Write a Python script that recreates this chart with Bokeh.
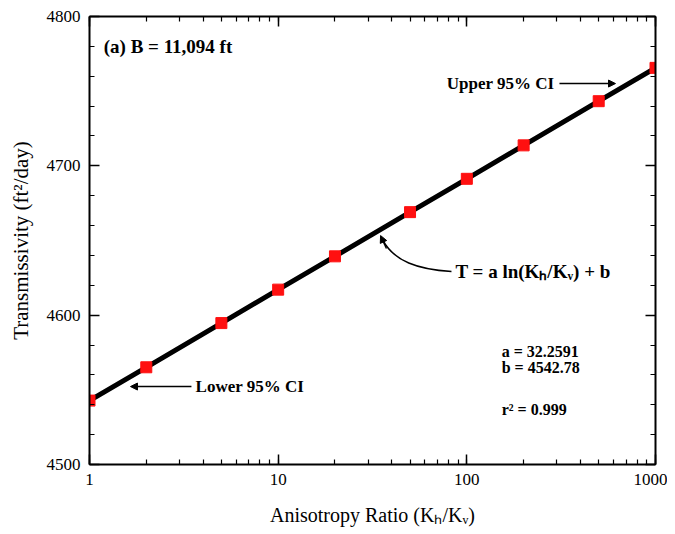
from bokeh.plotting import figure
from bokeh.models import (LogAxis, LinearAxis, LogTicker, SingleIntervalTicker, Range1d,
                          Label, Arrow, NormalHead, CustomJSTickFormatter)
from bokeh.embed import file_html
from bokeh.resources import INLINE

# ---- data ----
ratio = [1, 2, 5, 10, 20, 50, 100, 200, 500, 1000]
transmissivity = [4542.8, 4565.1, 4594.7, 4617.1, 4639.4, 4669.0, 4691.3, 4713.7, 4743.3, 4765.6]
y_ticks = [4500, 4600, 4700, 4800]
x_ticks = [1, 10, 100, 1000]

SERIF = "Liberation Serif"

p = figure(frame_width=566, frame_height=448, x_axis_type="log",
           x_range=Range1d(1, 1000), y_range=Range1d(4500, 4800),
           output_backend="svg", toolbar_location=None,
           min_border_left=89, min_border_right=12, min_border_top=16, min_border_bottom=64)
p.outline_line_color = None
p.xgrid.visible = False
p.ygrid.visible = False
p.background_fill_color = "white"

xt = LogTicker(num_minor_ticks=10)
yt = SingleIntervalTicker(interval=100, num_minor_ticks=5)

def style(ax, labels=True):
    ax.axis_line_width = 2
    ax.axis_line_color = "black"
    ax.major_tick_in = 10
    ax.major_tick_out = 0
    ax.minor_tick_in = 5
    ax.minor_tick_out = 0
    ax.major_tick_line_width = 1.5
    ax.minor_tick_line_width = 1.2
    ax.major_tick_line_color = "black"
    ax.minor_tick_line_color = "black"
    if labels:
        ax.major_label_text_font = SERIF
        ax.major_label_text_font_size = "17px"
        ax.major_label_text_color = "black"
        ax.axis_label_text_font = SERIF
        ax.axis_label_text_font_style = "normal"
        ax.axis_label_text_font_size = "20px"
        ax.axis_label_text_color = "black"
    else:
        ax.formatter = CustomJSTickFormatter(code="return '';")
        ax.major_label_text_font_size = "0px"
        ax.major_label_standoff = 0

xa = p.xaxis[0]
xa.ticker = xt
style(xa)
xa.formatter = CustomJSTickFormatter(code="return String(Math.round(tick));")
xa.major_label_standoff = 9
xa.axis_label = "Anisotropy Ratio (Kₕ/Kᵥ)"
xa.axis_label_standoff = 16

ya = p.yaxis[0]
ya.ticker = yt
style(ya)
ya.major_label_standoff = 9
ya.axis_label = "Transmissivity (ft²/day)"
ya.axis_label_text_font_size = "21px"
ya.axis_label_standoff = 11

top = LogAxis(ticker=xt)
style(top, labels=False)
p.add_layout(top, "above")
right = LinearAxis(ticker=yt)
style(right, labels=False)
p.add_layout(right, "right")

# fitted line with confidence band (overlapping)
p.line(ratio, transmissivity, line_color="black", line_width=5)
p.scatter(ratio, transmissivity, marker="square", size=11, fill_color="#ff1010",
          line_color="#ff1010")

def lab(x, y, text, size="15px", align="left", baseline="middle"):
    p.add_layout(Label(x=x, y=y, text=text, text_font=SERIF, text_font_style="bold",
                       text_font_size=size, text_align=align, text_baseline=baseline,
                       text_color="black"))

lab(1.19, 4779.9, "(a) B = 11,094 ft", size="19px")
lab(291.5, 4754.8, "Upper 95% CI", size="17px", align="right")
lab(3.65, 4552.2, "Lower 95% CI", size="17px")
lab(87.1, 4629.0, "T = a ln(Kₕ/Kᵥ) + b", size="19px")
lab(153.0, 4575.7, "a = 32.2591", size="16px")
lab(153.0, 4565.0, "b = 4542.78", size="16px")
lab(153.0, 4536.8, "r² = 0.999", size="16px")

p.add_layout(Arrow(x_start=309.7, y_start=4755.1, x_end=613.8, y_end=4755.1,
                   line_width=1.5, line_color="black",
                   end=NormalHead(size=7, fill_color="black", line_color="black")))
p.add_layout(Arrow(x_start=3.47, y_start=4552.2, x_end=1.649, y_end=4552.2,
                   line_width=1.5, line_color="black",
                   end=NormalHead(size=7, fill_color="black", line_color="black")))
p.bezier(x0=[82.9], y0=[4629.2], x1=[35.7], y1=[4650.7],
         cx0=[55.4], cy0=[4630.6], cx1=[40.9], cy1=[4635.9],
         line_color="black", line_width=1.5)
p.add_layout(Arrow(x_start=37.5, y_start=4644.6, x_end=34.9, y_end=4653.3,
                   line_width=1.5, line_color="black",
                   end=NormalHead(size=7, fill_color="black", line_color="black")))

open("out.html", "w").write(file_html(p, INLINE))
